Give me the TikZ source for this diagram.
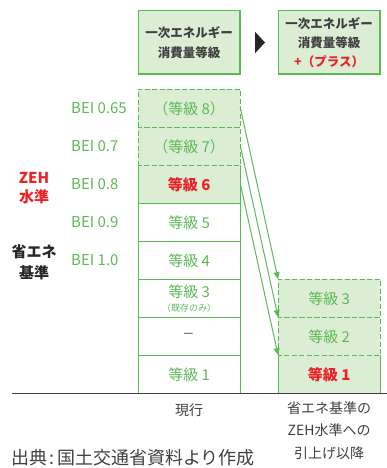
\documentclass[tikz,border=0pt]{standalone}
\usepackage{fontspec}
\setmainfont{Noto Sans CJK JP}
\usetikzlibrary{arrows.meta}
\definecolor{grn}{RGB}{92,186,86}
\definecolor{lgrn}{RGB}{219,238,212}
\definecolor{redc}{RGB}{236,34,40}
\definecolor{dgray}{RGB}{64,64,64}
\definecolor{mgray}{RGB}{130,130,130}
\tikzset{
  cell/.style={minimum width=101.7pt, minimum height=38pt, inner sep=0pt, text=grn, font=\fontsize{15}{18}\selectfont},
  gfill/.style={fill=lgrn},
  dsh/.style={draw=grn, line width=1.1pt, dash pattern=on 5pt off 2.5pt},
  sld/.style={draw=grn, line width=1.1pt},
  head/.style={minimum width=101.7pt, minimum height=63.3pt, inner sep=0pt, fill=lgrn, draw=grn, line width=1.1pt, align=center, text=dgray, font=\bfseries\fontsize{12.5}{20}\selectfont},
  bei/.style={anchor=west, text=grn, inner sep=0pt, font=\fontsize{15}{18}\selectfont},
  lab/.style={align=center, inner sep=0pt, font=\bfseries\fontsize{15}{21}\selectfont},
  foot/.style={align=center, inner sep=0pt, text=dgray, font=\fontsize{14}{22.5}\selectfont},
  arr/.style={draw=grn, line width=1pt, -{Triangle[length=7pt,width=6pt]}, shorten >=0pt},
}
\begin{document}
\begin{tikzpicture}[x=1pt,y=-1pt]
\useasboundingbox (0,0) rectangle (387,468);
% headers
\node[head] (H1) at (189.15,42.35) {一次エネルギー\\消費量等級};
\node[head, font=\bfseries\fontsize{12.5}{19}\selectfont] (H2) at (329.15,42.35) {一次エネルギー\\消費量等級\\\textcolor{redc}{+（プラス）}};
\fill[black!85] (255,31.7) -- (265,42.5) -- (255,53.3) -- cycle;
% left column
\node[cell, gfill] (L8) at (189.15,108.3) {（等級 8）};
\node[cell, gfill] (L7) at (189.15,146.3) {（等級 7）};
\node[cell, gfill, text=redc, font=\bfseries\fontsize{15}{18}\selectfont] (L6) at (189.15,184.3) {等級 6};
\node[cell] (L5) at (189.15,222.3) {等級 5};
\node[cell] (L4) at (189.15,260.3) {等級 4};
\node[cell] (L3) at (189.15,298.3) {};
\node[cell, text=mgray, font=\fontsize{20}{20}\selectfont] (L2) at (189.15,336.3) {–};
\node[cell] (L1) at (189.15,374.3) {等級 1};
\node[text=grn, inner sep=0pt, font=\fontsize{15}{18}\selectfont] (L3a) at (189.15,291.5) {等級 3};
\node[text=grn, inner sep=0pt, font=\fontsize{9}{11}\selectfont] (L3b) at (189.15,308.5) {（既存のみ）};
\draw[dsh] (L8.south west) rectangle (L8.north east);
\draw[dsh] (L7.south west) rectangle (L7.north east);
\draw[sld] (L6.north west) -- (L6.south west) -- (L6.south east) -- (L6.north east);
\foreach \n in {L5,L4,L3,L2,L1} \draw[sld] (\n.south west) rectangle (\n.north east);
% right column
\node[cell, gfill] (R3) at (329.15,298.3) {等級 3};
\node[cell, gfill] (R2) at (329.15,336.3) {等級 2};
\node[cell, gfill, text=redc, font=\bfseries\fontsize{15}{18}\selectfont] (R1) at (329.15,374.3) {等級 1};
\draw[dsh] (R3.south west) rectangle (R3.north east);
\draw[dsh] (R2.south west) rectangle (R2.north east);
\draw[sld] (R1.north west) -- (R1.south west) -- (R1.south east) -- (R1.north east);
% arrows
\draw[arr] ([yshift=1pt]L8.east) -- (R3.north west);
\draw[arr] ([yshift=1pt]L7.east) -- (R2.north west);
\draw[arr] ([yshift=1pt]L6.east) -- (R1.north west);
% BEI labels
\node[bei] (B1) at (71,108.3) {BEI 0.65};
\node[bei] (B2) at (71,146.3) {BEI 0.7};
\node[bei] (B3) at (71,184.3) {BEI 0.8};
\node[bei] (B4) at (71,222.3) {BEI 0.9};
\node[bei] (B5) at (71,260.3) {BEI 1.0};
\node[lab, text=redc, font=\bfseries\fontsize{15}{19}\selectfont] (ZEH) at (34,188.5) {ZEH\\水準};
\node[lab, text=black!85] (SHO) at (34,262) {省エネ\\基準};
% baseline
\draw[dgray, line width=1.2pt] (12,393.5) -- (387,393.5);
% bottom labels
\node[foot] (G1) at (189.15,410) {現行};
\node[foot, anchor=north] (G2) at (329.15,401) {省エネ基準の\\ZEH水準への\\引上げ以降};
\node[anchor=west, inner sep=0pt, text=dgray, font=\fontsize{18}{20}\selectfont] (SRC) at (11,458) {出典\hspace{2.5pt}:\hspace{2.5pt}国土交通省資料より作成};
\end{tikzpicture}
\end{document}
